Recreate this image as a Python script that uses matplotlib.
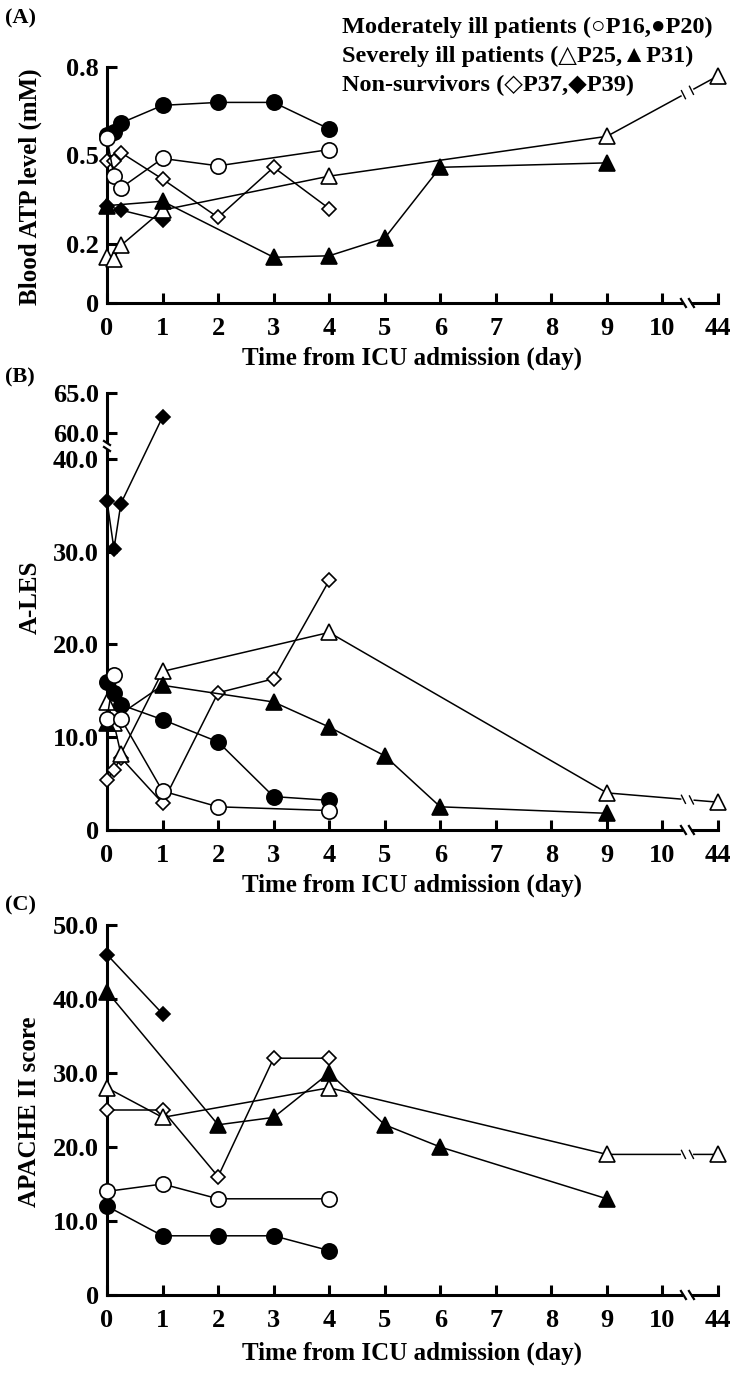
import numpy as np
import matplotlib
matplotlib.use("Agg")
import matplotlib.pyplot as plt
from matplotlib.lines import Line2D
from matplotlib.patches import Rectangle
from matplotlib.transforms import IdentityTransform

plt.rcParams['font.family'] = ['Liberation Serif', 'DejaVu Sans']
plt.rcParams['font.weight'] = 'bold'
plt.rcParams['axes.labelweight'] = 'bold'

# ---------------- data ----------------
x_ticks = [0, 1, 2, 3, 4, 5, 6, 7, 8, 9, 10, 44]
x_ticklabels = ['0', '1', '2', '3', '4', '5', '6', '7', '8', '9', '10', '44']

# Panel A: Blood ATP level (mM)
a_p16_x = [0, 0.125, 0.25, 1, 2, 4]
a_p16_y = [0.56, 0.43, 0.39, 0.49, 0.465, 0.52]
a_p20_x = [0, 0.125, 0.25, 1, 2, 3, 4]
a_p20_y = [0.57, 0.58, 0.61, 0.67, 0.68, 0.68, 0.59]
a_p25_x = [0, 0.125, 0.25, 1, 4, 9, 44]
a_p25_y = [0.155, 0.15, 0.195, 0.315, 0.43, 0.565, 0.77]
a_p31_x = [0, 1, 3, 4, 5, 6, 9]
a_p31_y = [0.33, 0.345, 0.155, 0.16, 0.22, 0.46, 0.475]
a_p37_x = [0, 0.125, 0.25, 1, 2, 3, 4]
a_p37_y = [0.48, 0.48, 0.51, 0.42, 0.29, 0.46, 0.32]
a_p39_x = [0, 0.25, 1]
a_p39_y = [0.33, 0.315, 0.28]
a_yticks = [0, 0.2, 0.5, 0.8]
a_yticklabels = ['0', '0.2', '0.5', '0.8']

# Panel B: A-LES
b_p16_x = [0, 0.125, 0.25, 1, 2, 4]
b_p16_y = [12.0, 16.7, 12.0, 4.2, 2.5, 2.1]
b_p20_x = [0, 0.125, 0.25, 1, 2, 3, 4]
b_p20_y = [16.0, 14.8, 13.5, 11.9, 9.5, 3.6, 3.2]
b_p25_x = [0, 0.125, 0.25, 1, 4, 9, 44]
b_p25_y = [13.8, 11.5, 8.2, 17.1, 21.3, 4.0, 3.0]
b_p31_x = [0, 1, 3, 4, 5, 6, 9]
b_p31_y = [11.5, 15.6, 13.8, 11.1, 8.0, 2.5, 1.8]
b_p37_x = [0, 0.125, 0.25, 1, 2, 3, 4]
b_p37_y = [5.4, 6.5, 7.8, 2.9, 14.8, 16.3, 26.9]
b_p39_x = [0, 0.125, 0.25, 1]
b_p39_y = [35.5, 30.3, 35.2, 62.0]
b_yticks = [0, 10, 20, 30, 40, 60, 65]
b_yticklabels = ['0', '10.0', '20.0', '30.0', '40.0', '60.0', '65.0']

# Panel C: APACHE II score
c_p16_x = [0, 1, 2, 4]
c_p16_y = [14, 15, 13, 13]
c_p20_x = [0, 1, 2, 3, 4]
c_p20_y = [12, 8, 8, 8, 6]
c_p25_x = [0, 1, 4, 9, 44]
c_p25_y = [28, 24, 28, 19, 19]
c_p31_x = [0, 2, 3, 4, 5, 6, 9]
c_p31_y = [41, 23, 24, 30, 23, 20, 13]
c_p37_x = [0, 1, 2, 3, 4]
c_p37_y = [25, 25, 16, 32, 32]
c_p39_x = [0, 1]
c_p39_y = [46, 38]
c_yticks = [0, 10, 20, 30, 40, 50]
c_yticklabels = ['0', '10.0', '20.0', '30.0', '40.0', '50.0']

legend_lines = ['Moderately ill patients (○P16,●P20)',
                'Severely ill patients (△P25,▲P31)',
                'Non-survivors (◇P37,◆P39)']

# ---------------- scales ----------------
def x_fwd(x):
    x = np.asarray(x, float)
    return np.where(x <= 10, x, 10 + (x - 10) / 34.0)

def x_inv(u):
    u = np.asarray(u, float)
    return np.where(u <= 10, u, 10 + (u - 10) * 34.0)

def yb_fwd(y):
    y = np.asarray(y, float)
    return np.where(y <= 40, y, np.where(y <= 60, 40 + (y - 40) * 0.14, 42.8 + (y - 60) * 0.863))

def yb_inv(u):
    u = np.asarray(u, float)
    return np.where(u <= 40, u, np.where(u <= 42.8, 40 + (u - 40) / 0.14, 60 + (u - 42.8) / 0.863))

W, H = 736, 1375
fig = plt.figure(figsize=(W / 100, H / 100), dpi=100)

LEFT, RIGHT = 107, 718
FS = 19      # tick labels
LFS = 17.5   # legend / axis labels
SPW = 2.2

def mkax(top_px, bot_px):
    return fig.add_axes([LEFT / W, 1 - bot_px / H, (RIGHT - LEFT) / W, (bot_px - top_px) / H])

axA = mkax(67, 303)
axB = mkax(393, 830)
axC = mkax(925, 1295)

styles = {
    'p39': dict(marker='D', ms=7.6, mfc='black', mec='black'),
    'p37': dict(marker='D', ms=7.6, mfc='white', mec='black'),
    'p25': dict(marker='^', ms=11, mfc='white', mec='black'),
    'p31': dict(marker='^', ms=11, mfc='black', mec='black'),
    'p20': dict(marker='o', ms=11, mfc='black', mec='black'),
    'p16': dict(marker='o', ms=11, mfc='white', mec='black'),
}
order = ['p39', 'p37', 'p25', 'p31', 'p20', 'p16']

panels = [
    (axA, {'p16': (a_p16_x, a_p16_y), 'p20': (a_p20_x, a_p20_y), 'p25': (a_p25_x, a_p25_y),
           'p31': (a_p31_x, a_p31_y), 'p37': (a_p37_x, a_p37_y), 'p39': (a_p39_x, a_p39_y)},
     (0, 0.8), a_yticks, a_yticklabels),
    (axB, {'p16': (b_p16_x, b_p16_y), 'p20': (b_p20_x, b_p20_y), 'p25': (b_p25_x, b_p25_y),
           'p31': (b_p31_x, b_p31_y), 'p37': (b_p37_x, b_p37_y), 'p39': (b_p39_x, b_p39_y)},
     (0, 65), b_yticks, b_yticklabels),
    (axC, {'p16': (c_p16_x, c_p16_y), 'p20': (c_p20_x, c_p20_y), 'p25': (c_p25_x, c_p25_y),
           'p31': (c_p31_x, c_p31_y), 'p37': (c_p37_x, c_p37_y), 'p39': (c_p39_x, c_p39_y)},
     (0, 50), c_yticks, c_yticklabels),
]

for ax, series, ylim, yt, ytl in panels:
    ax.set_xscale('function', functions=(x_fwd, x_inv))
    if ax is axB:
        ax.set_yscale('function', functions=(yb_fwd, yb_inv))
    ax.set_xlim(0, 44)
    ax.set_ylim(*ylim)
    for z, key in enumerate(order):
        xs, ys = series[key]
        ax.plot(xs, ys, color='black', lw=1.1, mew=1.2, clip_on=False, zorder=3 + z, **styles[key])
    ax.set_xticks(x_ticks)
    ax.set_xticklabels(x_ticklabels)
    ax.set_yticks(yt)
    ax.set_yticklabels(ytl)
    ax.xaxis.set_minor_locator(matplotlib.ticker.NullLocator())
    ax.yaxis.set_minor_locator(matplotlib.ticker.NullLocator())
    for s in ['top', 'right']:
        ax.spines[s].set_visible(False)
    for s in ['left', 'bottom']:
        ax.spines[s].set_linewidth(SPW)
    ax.tick_params(axis='both', direction='in', length=7, width=SPW, labelsize=FS)
    ax.tick_params(axis='x', pad=10)
    ax.tick_params(axis='y', pad=6)
    for lab in ax.get_xticklabels() + ax.get_yticklabels():
        lab.set_fontweight('bold')
    ax.patch.set_alpha(0)

fig.canvas.draw()

def add_line(xs, ys, **kw):
    fig.add_artist(Line2D(xs, ys, transform=IdentityTransform(), **kw))

def add_rect(x0, y0, w, h):
    fig.add_artist(Rectangle((x0, y0), w, h, transform=IdentityTransform(),
                             facecolor='white', edgecolor='none', zorder=20))

# x-axis breaks and line breaks
for ax, series, ylim, yt, ytl in panels:
    bx, by = ax.transData.transform((x_inv(10.45), ylim[0]))
    add_rect(bx - 4, by - 4, 8, 8)
    for dx in (-4, 4):
        add_line([bx + dx - 2.5, bx + dx + 2.5], [by + 4, by - 4], color='black', lw=1.6, zorder=21)
    xs, ys = series['p25']
    p1 = ax.transData.transform((xs[-2], ys[-2]))
    p2 = ax.transData.transform((xs[-1], ys[-1]))
    t = (bx - p1[0]) / (p2[0] - p1[0])
    cx = p1[0] + t * (p2[0] - p1[0])
    cy = p1[1] + t * (p2[1] - p1[1])
    slope = (p2[1] - p1[1]) / (p2[0] - p1[0])
    g = 4
    add_line([cx - g, cx + g], [cy - g * slope, cy + g * slope], color='white', lw=3, zorder=20)
    for dx in (-g, g):
        ex, ey = cx + dx, cy + dx * slope
        add_line([ex - 2, ex + 2], [ey + 4, ey - 4], color='black', lw=1.0, zorder=21)

# y-axis break in panel B
yb = axB.transData.transform((0, 50))
add_rect(yb[0] - 4, yb[1] - 3, 8, 6)
for dy in (-3, 3):
    add_line([yb[0] - 3, yb[0] + 3], [yb[1] + dy + 2, yb[1] + dy - 2], color='black', lw=1.6, zorder=21)

# texts
for i, s in enumerate(legend_lines):
    fig.text(342 / W, 1 - (27 + 29 * i) / H, s, fontsize=LFS, fontweight='bold', ha='left', va='center')

for lab, y in [('(A)', 18), ('(B)', 377), ('(C)', 905)]:
    fig.text(5 / W, 1 - y / H, lab, fontsize=16, fontweight='bold', ha='left', va='center')

for y in [358, 885, 1353]:
    fig.text(412 / W, 1 - y / H, 'Time from ICU admission (day)', fontsize=18, fontweight='bold',
             ha='center', va='center')

for s, y in [('Blood ATP level (mM)', 187), ('A-LES', 597), ('APACHE II score', 1112)]:
    fig.text(30 / W, 1 - y / H, s, fontsize=18, fontweight='bold', rotation=90, ha='center', va='center')

fig.savefig('out.png', dpi=100)
